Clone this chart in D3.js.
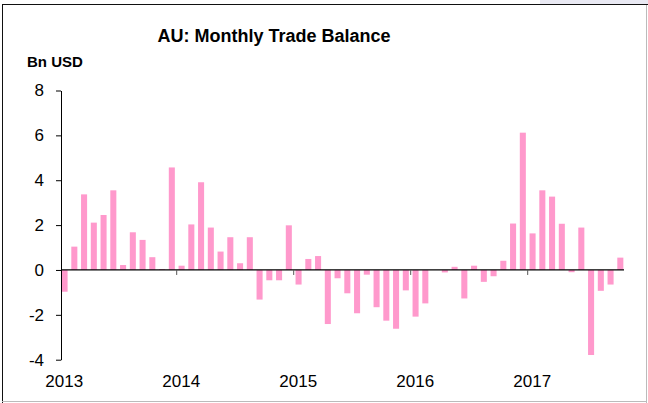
<!DOCTYPE html>
<html>
<head>
<meta charset="utf-8">
<script src="https://cdn.jsdelivr.net/npm/d3@7"></script>
<style>
  body { margin: 0; background: #fff; }
  svg { display: block; font-family: "Liberation Sans", Arial, sans-serif; }
  .axis path, .axis line { stroke: #000; }
  .axis text { font-size: 17px; fill: #000; }
</style>
</head>
<body>
<svg id="chart" width="648" height="403"></svg>
<script>
const years = [2013, 2014, 2015, 2016, 2017];
const yTicks = [-4, -2, 0, 2, 4, 6, 8];

// monthly balance, bn USD, Jan 2013 - Oct 2017
const bal2013 = [-0.97, 1.04, 3.37, 2.11, 2.45, 3.55, 0.22, 1.68, 1.34, 0.57, 0.04, 4.57];
const bal2014 = [0.19, 2.03, 3.91, 1.89, 0.82, 1.46, 0.30, 1.46, -1.32, -0.46, -0.46, 1.99];
const bal2015 = [-0.65, 0.49, 0.62, -2.41, -0.37, -1.04, -1.93, -0.21, -1.66, -2.26, -2.62, -0.91];
const bal2016 = [-2.08, -1.49, 0.00, -0.11, 0.14, -1.27, 0.19, -0.53, -0.28, 0.41, 2.07, 6.12];
const bal2017 = [1.63, 3.55, 3.27, 2.06, -0.10, 1.89, -3.79, -0.93, -0.65, 0.55];

const values = [].concat(bal2013, bal2014, bal2015, bal2016, bal2017);
const months = d3.timeMonth.range(new Date(2013, 0, 1), new Date(2013, values.length, 1));
const data = months.map((m, i) => ({month: m, value: values[i]}));

const svg = d3.select("#chart");

// frame
svg.append("rect")
    .attr("x", 540).attr("y", 0)
    .attr("width", 108).attr("height", 4)
    .attr("fill", "#e9e9f3");
svg.append("line").attr("x1", 2).attr("x2", 648).attr("y1", 4.5).attr("y2", 4.5).attr("stroke", "#111");
svg.append("line").attr("x1", 2.5).attr("x2", 2.5).attr("y1", 4).attr("y2", 403).attr("stroke", "#111");
svg.append("line").attr("x1", 646.5).attr("x2", 646.5).attr("y1", 5).attr("y2", 403).attr("stroke", "#bbb");
svg.append("line").attr("x1", 2).attr("x2", 647).attr("y1", 401.5).attr("y2", 401.5).attr("stroke", "#bbb");

const x = d3.scaleBand()
    .domain(months)
    .range([59.7, 625.2])
    .paddingInner(0.38)
    .paddingOuter(0.19);

const y = d3.scaleLinear()
    .domain([-4, 8])
    .range([359.7, 90.5]);

const slotStart = d => x(d) - (x.step() - x.bandwidth()) / 2;

svg.append("text")
    .attr("x", 274)
    .attr("y", 42)
    .attr("text-anchor", "middle")
    .attr("font-size", 18)
    .attr("font-weight", "bold")
    .text("AU: Monthly Trade Balance");

svg.append("text")
    .attr("x", 27)
    .attr("y", 67)
    .attr("font-size", 15)
    .attr("font-weight", "bold")
    .text("Bn USD");

svg.selectAll(".bar")
    .data(data)
    .enter()
    .append("rect")
    .attr("class", "bar")
    .attr("x", d => x(d.month))
    .attr("width", x.bandwidth())
    .attr("y", d => y(Math.max(0, d.value)))
    .attr("height", d => Math.abs(y(d.value) - y(0)))
    .attr("fill", "#ff99cc");

// y axis
svg.append("g")
    .attr("class", "axis")
    .attr("transform", "translate(61,0)")
    .call(d3.axisLeft(y).tickValues(yTicks).tickSize(5).tickSizeOuter(0).tickPadding(12)
        .tickFormat(d => String(d)));

// zero line with year ticks
const yearStarts = years.map(yr => new Date(yr, 0, 1));
svg.append("line")
    .attr("x1", 61).attr("x2", 624)
    .attr("y1", y(0)).attr("y2", y(0))
    .attr("stroke", "#000")
    .attr("stroke-width", 1.2);

svg.selectAll(".ytick")
    .data(yearStarts.slice(1))
    .enter()
    .append("line")
    .attr("class", "ytick")
    .attr("x1", d => slotStart(d)).attr("x2", d => slotStart(d))
    .attr("y1", y(0)).attr("y2", y(0) + 5)
    .attr("stroke", "#555");

svg.selectAll(".year")
    .data(yearStarts)
    .enter()
    .append("text")
    .attr("class", "year")
    .attr("x", d => slotStart(d) + 4.5)
    .attr("y", 387)
    .attr("text-anchor", "middle")
    .attr("font-size", 17)
    .text(d => d.getFullYear());
</script>
</body>
</html>
